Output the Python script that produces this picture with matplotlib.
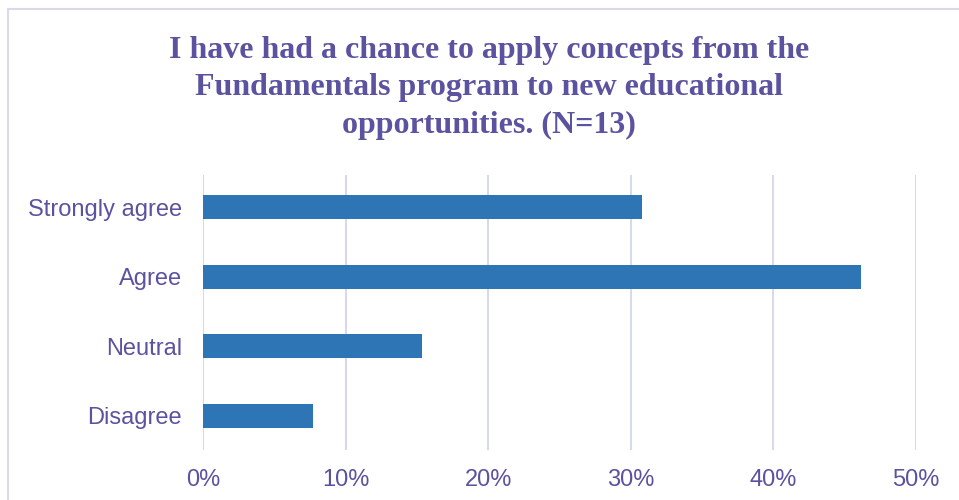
import matplotlib
matplotlib.use("Agg")
import matplotlib.pyplot as plt
from matplotlib.patches import Rectangle
from matplotlib.ticker import PercentFormatter

categories = ["Disagree", "Neutral", "Agree", "Strongly agree"]
counts = [1, 2, 6, 4]
total = 13
shares = [c / total for c in counts]
x_ticks = [0.0, 0.1, 0.2, 0.3, 0.4, 0.5]

title = ("I have had a chance to apply concepts from the\n"
         "Fundamentals program to new educational\n"
         "opportunities. (N=13)")

text_color = "#5b52a0"
bar_color = "#2e75b6"
grid_color = "#d9d9ec"

W, H = 959, 500
fig = plt.figure(figsize=(W / 100, H / 100), dpi=100)

# chart frame
fig.patches.append(Rectangle((8 / W, -0.1), 1.2, 1 - 9 / H + 0.1,
                             transform=fig.transFigure, fill=False,
                             edgecolor="#d9d9ea", linewidth=1.5))

left, right, top, bottom = 203, 916, 175, 450
ax = fig.add_axes([left / W, 1 - bottom / H, (right - left) / W, (bottom - top) / H])

ax.barh(range(len(categories)), shares, height=0.345, color=bar_color, zorder=3)
ax.set_yticks(range(len(categories)))
ax.set_yticklabels(categories)
ax.set_xlim(0, 0.5)
ax.set_ylim(-0.49, 3.46)
ax.set_xticks(x_ticks)
ax.xaxis.set_major_formatter(PercentFormatter(1.0, decimals=0))
ax.grid(axis="x", color=grid_color, linewidth=1.5, zorder=0)
ax.grid(axis="y", visible=False)
for s in ax.spines.values():
    s.set_visible(False)
ax.tick_params(axis="both", length=0, labelsize=17, labelcolor=text_color)
ax.tick_params(axis="x", pad=14)
ax.tick_params(axis="y", pad=15)
for lbl in ax.get_xticklabels() + ax.get_yticklabels():
    lbl.set_fontfamily("Liberation Sans")

fig.text(489 / W, 1 - 88 / H, title, ha="center", va="center",
         fontsize=23, fontweight="bold", family="Liberation Serif",
         color=text_color, linespacing=1.4)

fig.savefig("out.png", dpi=100)
